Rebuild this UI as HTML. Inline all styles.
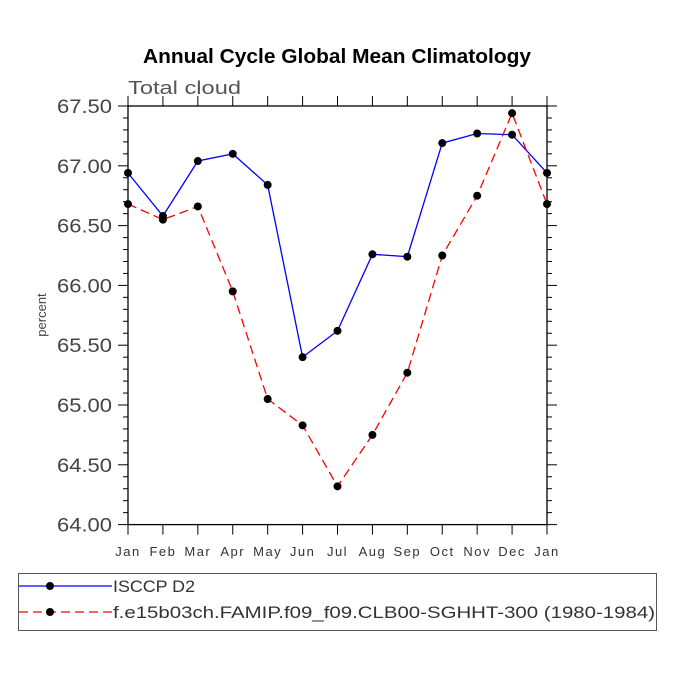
<!DOCTYPE html>
<html><head><meta charset="utf-8"><style>
body{margin:0;background:#fff;width:675px;height:675px;overflow:hidden}
text{font-family:"Liberation Sans",sans-serif}
</style></head><body>
<svg id="chart" width="675" height="675" viewBox="0 0 675 675" xmlns="http://www.w3.org/2000/svg">
<text x="337" y="63" text-anchor="middle" font-size="20" font-weight="bold" textLength="388" lengthAdjust="spacingAndGlyphs">Annual Cycle Global Mean Climatology</text>
<text x="128" y="94" font-size="18" fill="#555" textLength="113" lengthAdjust="spacingAndGlyphs">Total cloud</text>
<text x="0" y="0" font-size="13" fill="#444" text-anchor="middle" transform="translate(46,315) rotate(-90)">percent</text>
<g id="axes"></g>
<g id="series"></g>
<g>
<rect x="18.5" y="573.5" width="638" height="57" fill="none" stroke="#555" stroke-width="1"/>
<line x1="19" y1="586" x2="112" y2="586" stroke="#0000ff" stroke-width="1.3"/>
<circle cx="50" cy="586" r="4" fill="#000"/>
<text x="113" y="592" font-size="17" fill="#333" textLength="82" lengthAdjust="spacingAndGlyphs">ISCCP D2</text>
<line x1="19" y1="612" x2="112" y2="612" stroke="#ff0000" stroke-width="1.3" stroke-dasharray="9,5"/>
<circle cx="50" cy="612" r="4" fill="#000"/>
<text x="113" y="618" font-size="17" fill="#333" textLength="542" lengthAdjust="spacingAndGlyphs">f.e15b03ch.FAMIP.f09_f09.CLB00-SGHHT-300 (1980-1984)</text>
</g>
</svg>
<script>
const months=["Jan","Feb","Mar","Apr","May","Jun","Jul","Aug","Sep","Oct","Nov","Dec","Jan"];
const isccp=[66.94,66.58,67.04,67.10,66.84,65.40,65.62,66.26,66.24,67.19,67.27,67.26,66.94];
const model=[66.68,66.55,66.66,65.95,65.05,64.83,64.32,64.75,65.27,66.25,66.75,67.44,66.68];
const yTicks=["64.00","64.50","65.00","65.50","66.00","66.50","67.00","67.50"];
const NS="http://www.w3.org/2000/svg";
const L=128,R=547,T=106,B=524.6,ymin=64,ymax=67.5;
const xs=i=>L+(R-L)*i/(months.length-1);
const ys=v=>B-(v-ymin)/(ymax-ymin)*(B-T);
function mk(tag,a,p){const e=document.createElementNS(NS,tag);for(const k in a)e.setAttribute(k,a[k]);p.appendChild(e);return e;}
const ax=document.getElementById('axes'),se=document.getElementById('series');
const frame=mk('rect',{x:L,y:T,width:R-L,height:B-T,fill:'none',stroke:'#000','stroke-width':1.3},ax);


for(let i=0;i<months.length;i++){const x=xs(i);
mk('line',{x1:x,y1:T,x2:x,y2:T-10,stroke:'#000'},ax);
mk('line',{x1:x,y1:B,x2:x,y2:B+10,stroke:'#000'},ax);
const t=mk('text',{x:x,y:556,'text-anchor':'middle','font-size':13,fill:'#333','letter-spacing':1.5},ax);t.textContent=months[i];

}
for(let v=ymin;v<=ymax+1e-6;v+=0.1){const y=ys(v);const major=Math.abs(v*2-Math.round(v*2))<1e-6;const len=major?10:5;
mk('line',{x1:L,y1:y,x2:L-len,y2:y,stroke:'#000'},ax);
mk('line',{x1:R,y1:y,x2:R+len,y2:y,stroke:'#000'},ax);}
yTicks.forEach(s=>{const y=ys(parseFloat(s));const t=mk('text',{x:57,y:y+7,'font-size':19,fill:'#444',textLength:55,lengthAdjust:'spacingAndGlyphs'},ax);t.textContent=s;

});
function series(vals,color,dash,name){
const pl=mk('polyline',{points:vals.map((v,i)=>xs(i)+','+ys(v)).join(' '),fill:'none',stroke:color,'stroke-width':1.3,'stroke-dasharray':dash},se);


vals.forEach((v,i)=>{const c=mk('circle',{cx:xs(i),cy:ys(v),r:4,fill:'#000'},se);

});}
series(isccp,'#0000ff','none','isccp');
series(model,'#ff0000','9,5','model');
</script>
</body></html>
